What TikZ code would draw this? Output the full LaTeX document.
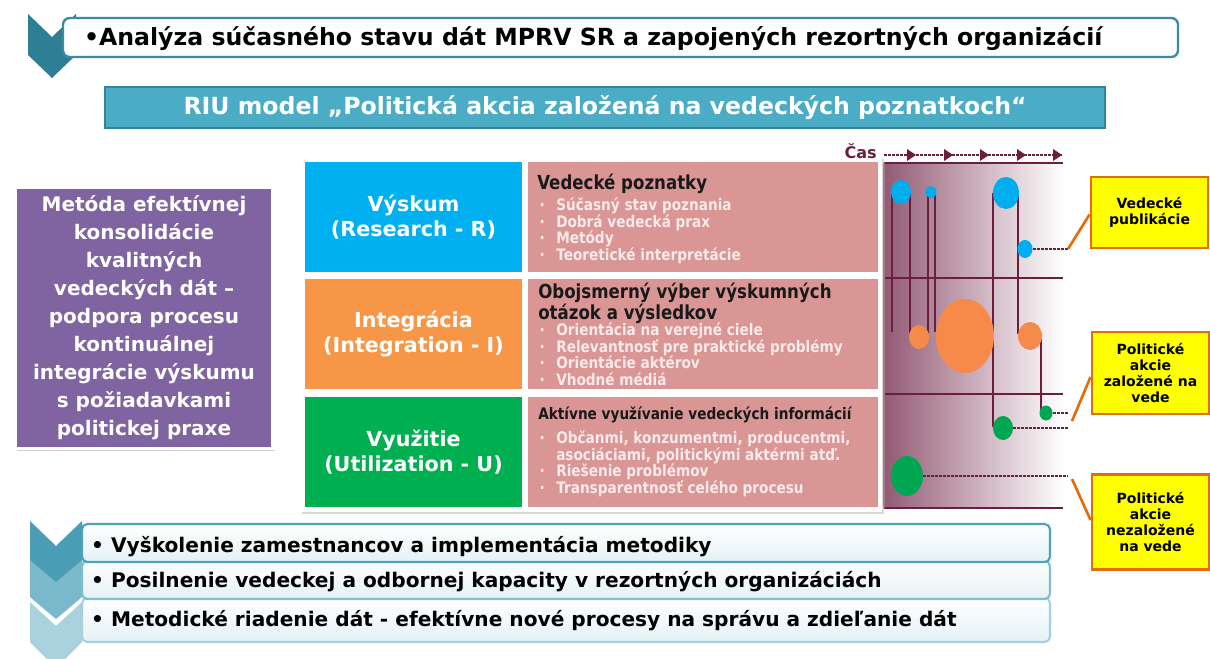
\documentclass[tikz,border=0pt]{standalone}
\usepackage{fontspec}
\setmainfont{DejaVu Sans}
\newfontfamily\cond[FakeStretch=0.86]{DejaVu Sans}
\usetikzlibrary{shadows,calc}
\definecolor{tealdark}{HTML}{2F7F94}
\definecolor{tealbord}{HTML}{3A8CA3}
\definecolor{riufill}{HTML}{4BACC6}
\definecolor{riubord}{HTML}{31849B}
\definecolor{purp}{HTML}{8064A2}
\definecolor{cblue}{HTML}{00B0F0}
\definecolor{corange}{HTML}{F79646}
\definecolor{cgreen}{HTML}{00B050}
\definecolor{cpink}{HTML}{D99694}
\definecolor{pinktext}{HTML}{FBEAEA}
\definecolor{maroon}{HTML}{6B1F3F}
\definecolor{mauve}{HTML}{935A74}
\definecolor{cyellow}{HTML}{FFFF00}
\definecolor{corbord}{HTML}{E46C0A}
\definecolor{bluec}{HTML}{00AEEF}
\definecolor{orangec}{HTML}{F58A4B}
\definecolor{greenc}{HTML}{00A651}
\definecolor{chevA}{HTML}{4A9DB4}
\definecolor{chevB}{HTML}{79B9CB}
\definecolor{chevC}{HTML}{A9D1DE}
\definecolor{boxA}{HTML}{4BA3BD}
\definecolor{boxB}{HTML}{7DBFD1}
\definecolor{boxC}{HTML}{A6D0DD}
\definecolor{boxband}{HTML}{E4F1F5}
\newcommand{\itm}{\makebox[13.5pt][l]{\kern1pt·}}
\begin{document}
\begin{tikzpicture}[x=0.75pt,y=-0.75pt,font=\bfseries,
  rowcell/.style={draw=none, minimum height=110*0.75pt, text=white, align=center,
     font=\bfseries\fontsize{15.5}{18.75}\selectfont, inner sep=0pt},
  pinkcell/.style={fill=cpink, minimum width=350*0.75pt, minimum height=110*0.75pt, inner sep=0pt},
  hdr/.style={anchor=north west, align=left, inner sep=0pt, text=black!90,
     font=\cond\bfseries\fontsize{14.5}{14.5}\selectfont},
  items/.style={anchor=north west, align=left, inner sep=0pt, text=pinktext,
     font=\cond\bfseries\fontsize{11.9}{12.3}\selectfont},
  callout/.style={fill=cyellow, draw=corbord, line width=2.2pt, align=center,
     minimum width=117*0.75pt, inner sep=0pt, font=\bfseries\fontsize{10.5}{12}\selectfont},
  calline/.style={draw=corbord, line width=2pt},
  vline/.style={draw=maroon, line width=1.6pt},
  hline/.style={draw=maroon, line width=1.2pt},
  dline/.style={draw=maroon, line width=2pt, dash pattern=on 2.2pt off 0.8pt},
  bottombox/.style={rounded corners=4pt, line width=1.6pt, top color=white, bottom color=boxband,
     minimum width=968*0.75pt, inner sep=0pt},
  btext/.style={anchor=west, inner sep=0pt, font=\bfseries\fontsize{15.1}{17}\selectfont}
]
\useasboundingbox (0,0) rectangle (1210,659);
\fill[white] (0,0) rectangle (1210,659);

% ---------- top chevron and box
\fill[tealdark] (28,14) -- (52,37) -- (76,14) -- (76,55) -- (52,78) -- (28,55) -- cycle;
\node[draw=tealbord, line width=1.8pt, fill=white, rounded corners=5pt,
      minimum width=1115*0.75pt, minimum height=39*0.75pt, inner sep=0pt] (topbox) at (620.5,37.5) {};
\node[anchor=west, inner sep=0pt, font=\bfseries\fontsize{17.7}{20}\selectfont]
   (toptext) at ([xshift=22*0.75pt,yshift=-1*0.75pt]topbox.west) {•Analýza súčasného stavu dát MPRV SR a zapojených rezortných organizácií};

% ---------- RIU bar
\node[fill=riufill, draw=riubord, line width=1.6pt, minimum width=1000*0.75pt, minimum height=41*0.75pt,
      inner sep=0pt, text=white, font=\bfseries\fontsize{17.7}{20}\selectfont]
   (riu) at (605,107.5) {RIU model „Politická akcia založená na vedeckých poznatkoch“};

% ---------- purple box
\node[fill=purp, draw=white, line width=2.5pt, drop shadow={opacity=0.35,shadow xshift=1.5pt,shadow yshift=-1.5pt},
      minimum width=258*0.75pt, minimum height=261*0.75pt, inner sep=0pt, text=white, align=center,
      font=\bfseries\fontsize{15}{21}\selectfont] (purple) at (144,318)
  {Metóda efektívnej\\konsolidácie\\kvalitných\\vedeckých dát –\\podpora procesu\\kontinuálnej\\integrácie výskumu\\s požiadavkami\\politickej praxe};

% ---------- table panel
\node[fill=white, drop shadow={opacity=0.3,shadow xshift=1.5pt,shadow yshift=-1.5pt},
      minimum width=582*0.75pt, minimum height=355*0.75pt, inner sep=0pt] (panel) at (591,334.5) {};

\node[rowcell, fill=cblue, minimum width=217*0.75pt] (rR) at (413.5,217.5) {Výskum\\(Research - R)};
\node[rowcell, fill=corange, minimum width=217*0.75pt] (rI) at (413.5,334) {Integrácia\\(Integration - I)};
\node[rowcell, fill=cgreen, minimum width=217*0.75pt] (rU) at (413.5,452) {Využitie\\(Utilization - U)};

\node[pinkcell] (pR) at (703,217.5) {};
\node[pinkcell] (pI) at (703,334) {};
\node[pinkcell] (pU) at (703,452) {};

\node[hdr] (hR) at (537,174) {Vedecké poznatky};
\node[items] (iR) at (538,198) {\itm Súčasný stav poznania\\\itm Dobrá vedecká prax\\\itm Metódy\\\itm Teoretické interpretácie};

\node[hdr, font=\cond\bfseries\fontsize{14.5}{14.3}\selectfont] (hI) at (538,283) {Obojsmerný výber výskumných\\otázok a výsledkov};
\node[items] (iI) at (538,323) {\itm Orientácia na verejné ciele\\\itm Relevantnosť pre praktické problémy\\\itm Orientácie aktérov\\\itm Vhodné médiá};

\node[hdr, font=\cond\bfseries\fontsize{11.9}{13}\selectfont] (hU) at (538,407) {Aktívne využívanie vedeckých informácií};
\node[items] (iU) at (538,431) {\itm Občanmi, konzumentmi, producentmi,\\\hphantom{\itm}asociáciami, politickými aktérmi atď.\\\itm Riešenie problémov\\\itm Transparentnosť celého procesu};

% ---------- time chart
\node[anchor=east, inner sep=0pt, text=maroon, font=\bfseries\fontsize{12}{14}\selectfont] (cas) at (877,151) {Čas};
\coordinate (tl0) at (884,155);
\coordinate (tl1) at (1062,155);
\draw[dline, line width=1.6pt] (tl0) -- (tl1);
\foreach \ax in {913,950,986,1023,1059}{
  \fill[maroon] (\ax-6,149) -- (\ax+3,155) -- (\ax-6,161) -- cycle;
}
\shade[left color=mauve, right color=white] (884,163) rectangle (1063,508);
\foreach \hy in {163,278,394,508}{ \draw[hline] (884,\hy) -- (1063,\hy); }
\draw[maroon!60, line width=0.8pt] (884,163) -- (884,508);

% vertical stems
\draw[vline] (892,192) -- (892,332);
\draw[vline] (910,192) -- (910,333);
\draw[vline] (928,192) -- (928,333);
\draw[vline] (935,192) -- (935,332);
\draw[vline] (993,193) -- (993,427);
\draw[vline] (1018,193) -- (1018,334);
\draw[vline] (1041,338) -- (1041,413);

% circles
\fill[bluec] (901,192) ellipse (10 and 12);
\fill[bluec] (931,192) ellipse (5.5 and 6);
\fill[bluec] (1006,193) ellipse (13 and 16);
\fill[bluec] (1025,249) ellipse (7.5 and 9);
\fill[orangec] (919,337) ellipse (10 and 12);
\fill[orangec] (965,336) ellipse (29 and 37);
\fill[orangec] (1030,336) ellipse (12 and 14);
\fill[greenc] (1046,413) ellipse (6.5 and 7.5);
\fill[greenc] (1003,428) ellipse (10 and 12);
\fill[greenc] (907,476) ellipse (16 and 20);

% dotted leaders
\coordinate (d1) at (1068,249);
\coordinate (d2) at (1068,413);
\coordinate (d3) at (1068,428);
\coordinate (d4) at (1068,476);
\draw[dline] (1033,249) -- (d1);
\draw[dline] (1053,413) -- (d2);
\draw[dline] (1013,428) -- (d3);
\draw[dline] (923,476) -- (d4);

% ---------- callouts
\node[callout, minimum height=71*0.75pt] (c1) at (1149.5,212.5) {Vedecké\\publikácie};
\node[callout, minimum height=82*0.75pt] (c2) at (1150.5,373) {Politické\\akcie\\založené na\\vede};
\node[callout, minimum height=95*0.75pt] (c3) at (1150.5,522) {Politické\\akcie\\nezaložené\\na vede};
\draw[calline] ([yshift=-2*0.75pt]c1.west) -- (d1);
\draw[calline] ([yshift=-4*0.75pt]c2.west) -- ($(d3)+(4,-7)$);
\draw[calline] ($(d4)+(4,3)$) -- ([yshift=2*0.75pt]c3.west);

% ---------- bottom chevrons and boxes
\fill[chevC] (30,602) -- (56,626) -- (82,602) -- (82,642) -- (56,668) -- (30,642) -- cycle;
\fill[chevB] (30,557) -- (56,581) -- (82,557) -- (82,597) -- (56,619) -- (30,597) -- cycle;
\fill[chevA] (30,521) -- (56,546) -- (82,521) -- (82,560) -- (56,582) -- (30,560) -- cycle;

\node[bottombox, draw=boxC, minimum height=44*0.75pt] (b3) at (566,620) {};
\node[bottombox, draw=boxB, minimum height=38*0.75pt] (b2) at (566,580) {};
\node[bottombox, draw=boxA, minimum height=38*0.75pt] (b1) at (566,543) {};
\node[btext] (bt1) at ([xshift=10*0.75pt,yshift=-4*0.75pt]b1.west) {• Vyškolenie zamestnancov a implementácia metodiky};
\node[btext] (bt2) at ([xshift=10*0.75pt,yshift=-2*0.75pt]b2.west) {• Posilnenie vedeckej a odbornej kapacity v rezortných organizáciách};
\node[btext] (bt3) at ([xshift=10*0.75pt,yshift=-1*0.75pt]b3.west) {• Metodické riadenie dát - efektívne nové procesy na správu a zdieľanie dát};
\end{tikzpicture}
\end{document}
